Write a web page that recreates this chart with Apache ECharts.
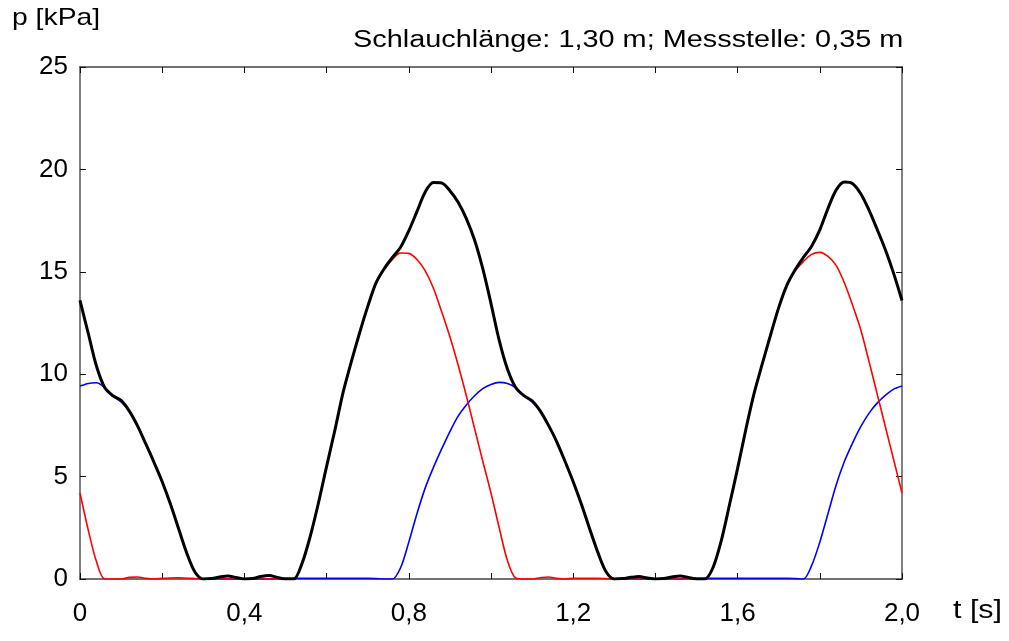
<!DOCTYPE html>
<html>
<head>
<meta charset="utf-8">
<script src="https://cdn.jsdelivr.net/npm/echarts@6/dist/echarts.min.js"></script>
<style>
html,body{margin:0;padding:0;background:#fff;}
#chart{width:1009px;height:641px;}
</style>
</head>
<body>
<div id="chart"></div>
<script>
// time axis (s), step 0.02
const times = Array.from({length: 101}, (_, i) => +(i * 0.02).toFixed(2));

// black curve (total pressure, kPa)
const blackValues = [
  13.6, 12.0, 10.4, 9.35, 8.95, 8.72, 8.2, 7.48, 6.6, 5.7,
  4.75, 3.66, 2.45, 1.25, 0.33, 0.0, 0.02, 0.1, 0.15, 0.07,
  0.0, 0.02, 0.12, 0.17, 0.08, 0.0, 0.0, 0.75, 2.07, 3.7,
  5.5, 7.25, 9.1, 10.6, 12.0, 13.3, 14.45, 15.15, 15.7, 16.2,
  17.0, 17.95, 18.9, 19.36, 19.34, 18.96, 18.4, 17.6, 16.55, 15.15,
  13.45, 11.65, 10.25, 9.35, 8.95, 8.7, 8.2, 7.5, 6.7, 5.75,
  4.75, 3.65, 2.45, 1.3, 0.35, 0.0, 0.02, 0.08, 0.12, 0.05,
  0.0, 0.02, 0.1, 0.15, 0.08, 0.0, 0.0, 0.55, 1.85, 3.6,
  5.4, 7.3, 9.05, 10.5, 11.9, 13.25, 14.35, 15.1, 15.7, 16.25,
  17.05, 18.1, 19.0, 19.38, 19.3, 18.8, 18.0, 17.05, 16.05, 14.9,
  13.6
];

// red curve (kPa)
const redValues = [
  4.2, 2.4, 0.85, 0.0, 0.0, 0.0, 0.08, 0.1, 0.03, 0.0,
  0.03, 0.05, 0.06, 0.04, 0.02, 0.0, 0.0, 0.0, 0.0, 0.0,
  0.0, 0.0, 0.0, 0.0, 0.0, 0.0, 0.0, 0.75, 2.07, 3.7,
  5.5, 7.25, 9.1, 10.6, 12.0, 13.3, 14.45, 15.1, 15.6, 15.92,
  15.9, 15.6, 15.05, 14.2, 13.05, 11.83, 10.45, 8.95, 7.35, 5.75,
  4.2, 2.5, 0.9, 0.05, 0.0, 0.0, 0.06, 0.1, 0.03, 0.0,
  0.04, 0.04, 0.04, 0.04, 0.02, 0.0, 0.0, 0.0, 0.0, 0.0,
  0.0, 0.0, 0.0, 0.0, 0.0, 0.0, 0.0, 0.55, 1.85, 3.6,
  5.4, 7.3, 9.05, 10.5, 11.9, 13.25, 14.35, 15.05, 15.5, 15.85,
  15.95, 15.75, 15.3, 14.45, 13.35, 12.15, 10.6, 9.0, 7.4, 5.8,
  4.2
];

// blue curve (kPa)
const blueValues = [
  9.42, 9.55, 9.58, 9.35, 8.95, 8.65, 8.2, 7.48, 6.6, 5.7,
  4.75, 3.66, 2.45, 1.25, 0.33, 0.0, 0.0, 0.0, 0.0, 0.0,
  0.0, 0.0, 0.0, 0.0, 0.03, 0.03, 0.03, 0.03, 0.03, 0.03,
  0.03, 0.03, 0.03, 0.03, 0.03, 0.03, 0.02, 0.0, 0.0, 0.55,
  1.8, 3.2, 4.45, 5.45, 6.35, 7.2, 7.95, 8.5, 8.95, 9.3,
  9.5, 9.6, 9.55, 9.35, 8.95, 8.65, 8.2, 7.5, 6.7, 5.75,
  4.75, 3.65, 2.45, 1.3, 0.35, 0.0, 0.0, 0.0, 0.0, 0.0,
  0.0, 0.0, 0.0, 0.0, 0.03, 0.03, 0.03, 0.03, 0.03, 0.03,
  0.03, 0.03, 0.03, 0.03, 0.03, 0.03, 0.03, 0.02, 0.0, 0.65,
  1.8, 3.2, 4.6, 5.75, 6.65, 7.45, 8.1, 8.6, 8.98, 9.27,
  9.42
];

const xLabelTicks = [0, 0.4, 0.8, 1.2, 1.6, 2.0];

const titleText = 'Schlauchlänge: 1,30 m; Messstelle: 0,35 m';
const yName = 'p [kPa]';
const xName = 't [s]';

const pair = (vals) => times.map((t, i) => [t, vals[i]]);
const FONT = 'Liberation Sans';

function xLabel(v) {
  const hit = xLabelTicks.find(x => Math.abs(x - v) < 1e-6);
  if (hit === undefined) return '';
  return hit === 0 ? '0' : hit.toFixed(1).replace('.', ',');
}

const lineGrey = { show: true, onZero: false, lineStyle: { color: '#808080', width: 2 } };
const lineDark = { show: true, onZero: false, lineStyle: { color: '#444', width: 1.5 } };
const tick = { show: true, inside: true, length: 6, lineStyle: { color: '#111', width: 1 } };

const chart = echarts.init(document.getElementById('chart'), null, { renderer: 'canvas' });
chart.setOption({
  backgroundColor: '#fff',
  animation: false,
  grid: { left: 80, right: 107, top: 67, bottom: 62, containLabel: false },
  xAxis: [
    {
      type: 'value', min: 0, max: 2, interval: 0.2, position: 'bottom',
      axisLine: lineDark, axisTick: tick, splitLine: { show: false },
      axisLabel: { formatter: xLabel, fontFamily: FONT, fontSize: 26, color: '#000', margin: 22 }
    },
    {
      type: 'value', min: 0, max: 2, interval: 0.2, position: 'top',
      axisLine: lineDark, axisTick: tick, splitLine: { show: false }, axisLabel: { show: false }
    }
  ],
  yAxis: [
    {
      type: 'value', min: 0, max: 25, interval: 5, position: 'left',
      axisLine: lineGrey, axisTick: tick, splitLine: { show: false },
      axisLabel: { fontFamily: FONT, fontSize: 26, color: '#000', margin: 12 }
    },
    {
      type: 'value', min: 0, max: 25, interval: 5, position: 'right',
      axisLine: lineGrey, axisTick: tick, splitLine: { show: false }, axisLabel: { show: false }
    }
  ],
  graphic: [
    { type: 'text', x: 12, y: 6, scaleX: 1.18,
      style: { text: yName, font: '24px "Liberation Sans"', fill: '#000', align: 'left', verticalAlign: 'top' } },
    { type: 'text', x: 353, y: 29, scaleX: 1.255,
      style: { text: titleText, font: '23px "Liberation Sans"', fill: '#000', align: 'left', verticalAlign: 'top' } },
    { type: 'text', x: 953, y: 598, scaleX: 1.17,
      style: { text: xName, font: '26px "Liberation Sans"', fill: '#000', align: 'left', verticalAlign: 'top' } }
  ],
  series: [
    { name: 'blue', type: 'line', data: pair(blueValues), showSymbol: false, smooth: 0.3,
      lineStyle: { color: '#0000ff', width: 1.6 }, z: 2 },
    { name: 'red', type: 'line', data: pair(redValues), showSymbol: false, smooth: 0.3,
      lineStyle: { color: '#ff0000', width: 1.6 }, z: 3 },
    { name: 'black', type: 'line', data: pair(blackValues), showSymbol: false, smooth: 0.3,
      lineStyle: { color: '#000000', width: 3 }, z: 4 }
  ]
});
</script>
</body>
</html>
